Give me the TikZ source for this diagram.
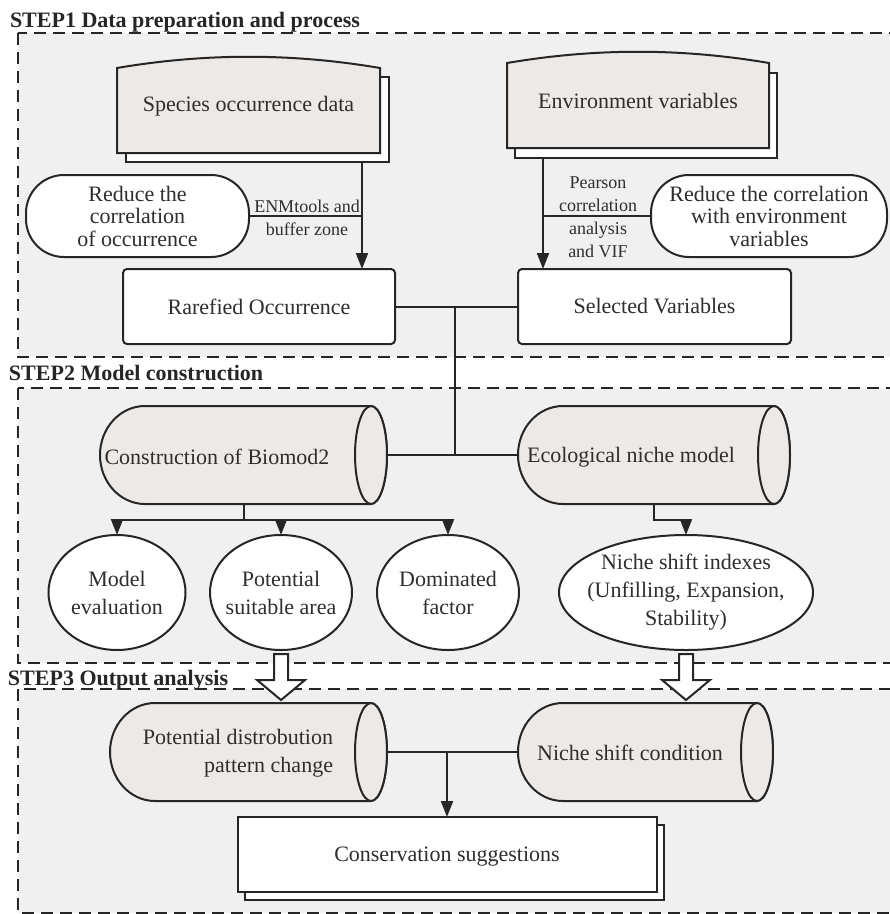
\documentclass[tikz,border=0pt]{standalone}
\usepackage{fontspec}
\setmainfont{Liberation Serif}
\usetikzlibrary{arrows.meta,shapes.geometric,calc}
\definecolor{bggray}{HTML}{F0F0F0}
\definecolor{shfill}{HTML}{EDE9E7}
\definecolor{ink}{HTML}{262626}
\definecolor{txt}{HTML}{2E2E2E}
\newcommand\drawcylshape[1]{%
  \draw[ln, fill=shfill] ([xshift=45pt]#1.north west) -- ([xshift=-16pt]#1.north east)
    arc[start angle=90, end angle=-90, x radius=16pt, y radius=49pt]
    -- ([xshift=45pt]#1.south west)
    arc[start angle=270, end angle=90, x radius=45pt, y radius=49pt] -- cycle;
  \draw[ln, fill=shfill] ([xshift=-16pt]#1.east) ellipse [x radius=16pt, y radius=49pt];}
\begin{document}
\begin{tikzpicture}[x=1pt,y=-1pt,
  every node/.style={text=txt, inner sep=0pt, outer sep=0pt},
  ln/.style={draw=ink, line width=2pt},
  arr/.style={ln, -{Triangle[width=12pt,length=16pt]}},
  blk/.style={ln, fill=white, line join=miter},
  zone/.style={draw=ink, line width=1.8pt, dash pattern=on 12pt off 7pt, fill=bggray},
  ttl/.style={font=\fontsize{22}{24}\selectfont\bfseries, anchor=base west, text=ink},
  body/.style={font=\fontsize{22}{28}\selectfont, align=center},
  lbl/.style={font=\fontsize{18}{23}\selectfont, align=center},
  area/.style 2 args={rectangle, minimum width=#1, minimum height=#2},
  pill/.style={rectangle, draw=ink, line width=2pt, fill=white, rounded corners=38pt,
    font=\fontsize{22}{22.5}\selectfont, align=center},
  rbox/.style={rectangle, draw=ink, line width=2pt, fill=white, rounded corners=4pt, body},
  oval/.style={ellipse, draw=ink, line width=2pt, fill=white}
]
\useasboundingbox (0,0) rectangle (890,914);
\fill[white] (0,0) rectangle (890,914);

% zones
\draw[zone] (18,33) rectangle (905,357);
\draw[zone] (18,388) rectangle (905,663);
\draw[zone] (18,689) rectangle (905,913);
\node[ttl] (t1) at (10,27) {STEP1 Data preparation and process};
\node[ttl] (t2) at (9,380) {STEP2 Model construction};
\node[ttl] (t3) at (8,685) {STEP3 Output analysis};

% species occurrence data (document shape)
\node[area={263pt}{85pt}] (spec) at (248.5,110.5) {};
\draw[ln, fill=white] ([shift={(9pt,-9pt)}]spec.south west) rectangle ([shift={(9pt,-9pt)}]spec.north east);
\draw[ln, fill=shfill] (spec.south west) -- (spec.south east) -- (spec.north east)
  .. controls ($(spec.north east)+(-88,-15)$) and ($(spec.north west)+(88,-15)$) .. (spec.north west) -- cycle;
\node[body] (spect) at (248.5,106) {Species occurrence data};

% environment variables
\node[area={262pt}{85pt}] (env) at (638,105.5) {};
\draw[ln, fill=white] ([shift={(8pt,-10pt)}]env.south west) rectangle ([shift={(8pt,-10pt)}]env.north east);
\draw[ln, fill=shfill] (env.south west) -- (env.south east) -- (env.north east)
  .. controls ($(env.north east)+(-88,-15)$) and ($(env.north west)+(88,-15)$) .. (env.north west) -- cycle;
\node[body] (envt) at (638,101) {Environment variables};

% reduce boxes
\node[pill, minimum width=223pt, minimum height=82pt] (red1) at (137.5,216) {Reduce the\\correlation\\of occurrence};
\node[pill, minimum width=236pt, minimum height=82pt] (red2) at (769,216) {Reduce the correlation\\with environment\\variables};

% rarefied / selected
\node[rbox, minimum width=272pt, minimum height=75pt] (rare) at (259,306.5) {Rarefied Occurrence};
\node[rbox, minimum width=273pt, minimum height=75pt] (sel) at (654.5,306.5) {Selected Variables};

\coordinate (c1) at (362,216);
\coordinate (specsh) at ([yshift=-9pt]spec.south);
\draw[arr] (specsh -| c1) -- (c1 |- rare.north);
\draw[ln] (red1.east) -- (c1);
\node[lbl] (lab1) at (307,217.5) {ENMtools and\\buffer zone};

\coordinate (c2) at (543,216);
\coordinate (envsh) at ([yshift=-10pt]env.south);
\draw[arr] (envsh -| c2) -- (c2 |- sel.north);
\draw[ln] (red2.west) -- (c2);
\node[lbl] (lab2) at (598,217.5) {Pearson\\correlation\\analysis\\and VIF};

% cylinders step 2
\node[area={287pt}{98pt}] (cb) at (243.5,455) {};
\node[area={272pt}{98pt}] (eco) at (654,455) {};

\draw[ln] (rare.east) -- (sel.west);
\coordinate (j1) at (455,306.5);
\draw[ln] (j1) -- (j1 |- cb.east);
\draw[ln] (cb.east) -- (eco.west);

\drawcylshape{cb}
\drawcylshape{eco}
\node[body] (cbt) at (217,457) {Construction of Biomod2};
\node[body] (ecot) at (631,457) {Ecological niche model};

% ellipses
\node[oval, minimum width=137pt, minimum height=115pt] (me) at (117,592.5) {};
\node[oval, minimum width=142pt, minimum height=115pt] (psa) at (281,592.5) {};
\node[oval, minimum width=142pt, minimum height=115pt] (df) at (448,592.5) {};
\node[oval, minimum width=254pt, minimum height=115pt] (nsi) at (686,592.5) {};
\node[body] (met) at (me) {Model\\evaluation};
\node[body] (psat) at (psa) {Potential\\suitable area};
\node[body] (dft) at (df) {Dominated\\factor};
\node[body] (nsit) at (nsi) {Niche shift indexes\\(Unfilling, Expansion,\\Stability)};

\coordinate (bh) at (243.5,520);
\draw[ln] (cb.south) -- (bh);
\draw[ln] (me.north |- bh) -- (df.north |- bh);
\draw[arr] (me.north |- bh) -- (me.north);
\draw[arr] (psa.north |- bh) -- (psa.north);
\draw[arr] (df.north |- bh) -- (df.north);
\draw[arr] (eco.south) -- (eco.south |- bh) -| (nsi.north);

% step 3 cylinders
\node[area={277pt}{98pt}] (pdc) at (248.5,752) {};
\node[area={255pt}{98pt}] (nsc) at (645.5,752) {};
\node[area={419pt}{75pt}] (cons) at (447.5,854.5) {};

\draw[ln] (pdc.east) -- (nsc.west);
\coordinate (j2) at (447,752);
\draw[arr] (j2) -- (j2 |- cons.north);

\drawcylshape{pdc}
\drawcylshape{nsc}
\node[body, align=right, anchor=east] (pdct) at (333,753) {Potential distrobution\\pattern change};
\node[body] (nsct) at (630,753) {Niche shift condition};

% conservation
\draw[ln, fill=white] ([shift={(7pt,-8pt)}]cons.south west) rectangle ([shift={(7pt,-8pt)}]cons.north east);
\draw[ln, fill=white] (cons.south west) rectangle (cons.north east);
\node[body] (const) at (447,857) {Conservation suggestions};

% block arrows
\coordinate (tipA) at ($(psa.south |- pdc.north)+(0,-3)$);
\draw[blk] ($(psa.south)+(-7,4)$) -- ($(tipA)+(-7,-20)$) -- ($(tipA)+(-24,-20)$) -- (tipA)
  -- ($(tipA)+(24,-20)$) -- ($(tipA)+(7,-20)$) -- ($(psa.south)+(7,4)$) -- cycle;
\coordinate (tipB) at ($(nsi.south |- nsc.north)+(0,-3)$);
\draw[blk] ($(nsi.south)+(-7,4)$) -- ($(tipB)+(-7,-20)$) -- ($(tipB)+(-24,-20)$) -- (tipB)
  -- ($(tipB)+(24,-20)$) -- ($(tipB)+(7,-20)$) -- ($(nsi.south)+(7,4)$) -- cycle;
\end{tikzpicture}
\end{document}
